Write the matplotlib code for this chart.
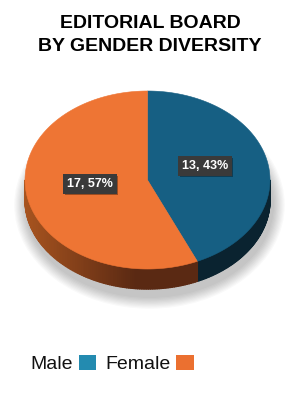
import numpy as np
import matplotlib.pyplot as plt
from matplotlib.collections import PolyCollection
from matplotlib.patches import Polygon, Patch, Ellipse
from matplotlib.colors import to_rgb

# data
labels = ["Male", "Female"]
counts = [13, 17]
top_colors = ["#165F83", "#EE7534"]
legend_colors = ["#238BB0", "#EB7030"]
side_light = ["#0E2C3C", "#A8541F"]
side_dark = ["#0A2330", "#5A2913"]

title = "EDITORIAL BOARD\nBY GENDER DIVERSITY"

plt.rcParams["font.family"] = ["Liberation Sans", "DejaVu Sans"]

fig = plt.figure(figsize=(3.0, 3.99), dpi=100)
ax = fig.add_axes([0, 0, 1, 1])
ax.set_xlim(0, 300)
ax.set_ylim(399, 0)
ax.axis("off")

# pie geometry (pixels)
cx, cy, rx, ry, depth = 147.5, 180, 122.5, 89, 20


def edge(theta):
    return cx + rx * np.cos(theta), cy - ry * np.sin(theta)


# soft shadow
for i in range(10):
    ax.add_patch(Ellipse((cx + 2, cy + depth + 5), 2 * rx + 4 + i * 2.4,
                         2 * ry + 8 + i * 2.4, facecolor="#000000",
                         alpha=0.025, lw=0, zorder=1))

fracs = np.array(counts) / np.sum(counts)
starts = 90 - 360 * np.concatenate([[0], np.cumsum(fracs)[:-1]])
ends = starts - 360 * fracs

# side walls (front half only)
for s, e, cl, cd in zip(starts, ends, side_light, side_dark):
    lo, hi = np.radians(e), np.radians(s)
    segs, cols = [], []
    th = np.linspace(lo, hi, 200)
    for a, b in zip(th[:-1], th[1:]):
        m = (a + b) / 2
        if np.sin(m) >= 0:
            continue
        x1, y1 = edge(a)
        x2, y2 = edge(b)
        segs.append([(x1, y1), (x2, y2), (x2, y2 + depth), (x1, y1 + depth)])
        t = np.clip((x1 - (cx - rx)) / (rx * 0.9), 0, 1)
        c = (1 - t) * np.array(to_rgb(cl)) + t * np.array(to_rgb(cd))
        cols.append(c)
    if segs:
        ax.add_collection(PolyCollection(segs, facecolors=cols,
                                         edgecolors=cols, lw=1.0, zorder=2))

# top faces
for s, e, c in zip(starts, ends, top_colors):
    th = np.radians(np.linspace(e, s, 300))
    xs, ys = edge(th)
    pts = np.column_stack([np.r_[cx, xs], np.r_[cy, ys]])
    ax.add_patch(Polygon(pts, closed=True, facecolor=c, edgecolor=c,
                         lw=0.4, zorder=3))

# data labels
for s, e, n, f in zip(starts, ends, counts, fracs):
    m = np.radians((s + e) / 2)
    x, y = cx + 0.48 * rx * np.cos(m), cy - 0.48 * ry * np.sin(m) - 5
    txt = f"{n}, {f * 100:.0f}%"
    ax.text(x + 1.5, y + 1.5, txt, ha="center", va="center", fontsize=9,
            fontweight="bold", color="none", zorder=4,
            bbox=dict(boxstyle="square,pad=0.3", fc="#000000", ec="none",
                      alpha=0.35))
    ax.text(x, y, txt, ha="center", va="center", fontsize=9,
            fontweight="bold", color="white", zorder=5,
            bbox=dict(boxstyle="square,pad=0.3", fc="#3A3A3A", ec="none"))

fig.text(0.5, 0.912, title, ha="center", va="center", fontsize=14,
         fontweight="bold", color="black", linespacing=1.42)

handles = [Patch(facecolor=c, edgecolor="none") for c in legend_colors]
fig.legend(handles, labels, loc="center left", bbox_to_anchor=(0.043, 0.088),
           ncol=2, frameon=False, markerfirst=False, fontsize=14,
           handlelength=0.9, handleheight=0.85, handletextpad=0.3,
           columnspacing=0.45, labelcolor="#111111")

fig.savefig("out.png", dpi=100)
